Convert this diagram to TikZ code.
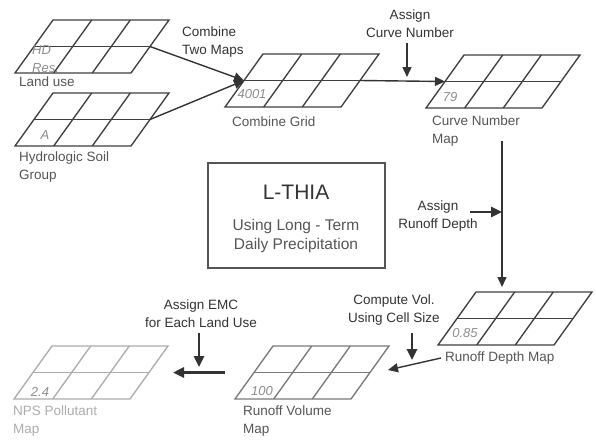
\documentclass[tikz,border=0pt]{standalone}
\usepackage{fontspec}
\setmainfont{Liberation Sans}
\usepackage{xcolor}
\usetikzlibrary{arrows.meta, positioning}

\definecolor{inkgray}{HTML}{333333}
\definecolor{labelgray}{HTML}{555555}
\definecolor{cellgray}{HTML}{8E8E8E}
\definecolor{gridline}{HTML}{404040}
\definecolor{midline}{HTML}{7A7A7A}
\definecolor{paleline}{HTML}{ADADAD}

\tikzset{
  mapgrid/.pic={
    % outline, middle row line, two column lines
    \draw (0,0) -- (116,0) -- (154,-53) -- (38,-53) -- cycle;
    \draw (19,-26.5) -- (135,-26.5);
    \draw (38.7,0) -- (76.7,-53) (77.3,0) -- (115.3,-53);
    \coordinate (-w) at (19,-26.5);
    \coordinate (-e) at (135,-26.5);
  },
  grid/.style={line width=1.35pt, gridline},
  lbl/.style={font=\fontsize{13.5}{18}\selectfont, text=labelgray, inner sep=0pt, align=left},
  note/.style={lbl, text=inkgray, align=center},
  cell/.style={font=\fontsize{13}{18}\selectfont\itshape, text=cellgray, inner sep=0pt, align=left},
  flow/.style={draw=inkgray, line width=1.4pt, -{Triangle[length=10pt,width=9pt]}},
  push/.style={draw=inkgray, line width=2.6pt, -{Triangle[length=11pt,width=10pt]}}
}

\begin{document}
\begin{tikzpicture}[x=1pt, y=-1pt]
  \fill[white] (0,0) rectangle (596,439);
  \useasboundingbox (0,0) rectangle (596,439);

  % Input maps
  \pic[grid] (lu) at (15,73) {mapgrid};
  \pic[grid] (hs) at (15,146) {mapgrid};
  \node[cell, anchor=west] (hdres) at (32,59.5) {HD\\Res.};
  \node[cell] (cellA) at (45,135) {A};
  \node[lbl, anchor=west] (lulbl) at (19,82) {Land use};
  \node[lbl, anchor=west] (hslbl) at (19,167.5) {Hydrologic Soil\\Group};

  % Combined grid
  \pic[grid] (cg) at (225,107) {mapgrid};
  \node[cell] (c4001) at (252,94) {4001};
  \node[lbl, anchor=west] (cglbl) at (232,122) {Combine Grid};
  \node[note, align=left, anchor=west] (ctm) at (182,42) {Combine\\Two Maps};
  \draw[flow] (lu-e) -- (cg-w);
  \draw[flow] (hs-e) -- (cg-w);

  % Curve number map
  \pic[grid] (cn) at (426,108) {mapgrid};
  \node[cell] (c79) at (450,97) {79};
  \node[lbl, anchor=west] (cnlbl) at (432,131) {Curve Number\\Map};
  \node[note] (acn) at (410,24) {Assign\\Curve Number};
  \draw[flow] (cg-e) -- (cn-w);
  \coordinate (acn-src) at (407,43);
  \coordinate (acn-dst) at (407,77);
  \draw[flow] (acn-src) -- (acn-dst);

  % Title box
  \node[draw=labelgray, line width=1.2pt, minimum width=177, minimum height=105] (lthia) at (296.5,215.5) {};
  \node[font=\fontsize{21}{24}\selectfont, text=inkgray, inner sep=0pt] (ttl) at (296,192) {L-THIA};
  \node[lbl, font=\fontsize{15.5}{19}\selectfont, align=center] (sub) at (296,235.5) {Using Long - Term\\Daily Precipitation};

  % Runoff depth map
  \pic[grid] (rd) at (438,345) {mapgrid};
  \node[cell] (c085) at (465,333) {0.85};
  \node[lbl, anchor=west] (rdlbl) at (445,358) {Runoff Depth Map};
  \node[note] (ard) at (438,216) {Assign\\Runoff Depth};
  \coordinate (cn-out) at (502,141);
  \coordinate (rd-in) at (502,287);
  \coordinate (ard-src) at (470,212);
  \coordinate (ard-dst) at (502,212);
  \draw[flow] (cn-out) -- (rd-in);
  \draw[push] (ard-src) -- (ard-dst);

  % Runoff volume map
  \pic[grid, midline] (rv) at (235,399) {mapgrid};
  \node[cell] (c100) at (262,391) {100};
  \node[lbl, anchor=west] (rvlbl) at (243,421.5) {Runoff Volume\\Map};
  \node[note] (acv) at (394,310) {Compute Vol.\\Using Cell Size};
  \coordinate (acv-src) at (412,333);
  \coordinate (acv-dst) at (412,360);
  \coordinate (rv-in) at (388,370);
  \draw[push] (acv-src) -- (acv-dst);
  \draw[flow] ([xshift=-4pt]rdlbl.west) -- (rv-in);

  % NPS pollutant map
  \pic[grid, paleline] (nps) at (14,399) {mapgrid};
  \node[cell] (c24) at (40,392) {2.4};
  \node[lbl, text=paleline, anchor=west] (npslbl) at (13,421.5) {NPS Pollutant\\Map};
  \node[note] (emc) at (201,314) {Assign EMC\\for Each Land Use};
  \coordinate (emc-src) at (199,333);
  \coordinate (emc-dst) at (199,367);
  \draw[push] (emc-src) -- (emc-dst);
  \draw[push, shorten <=29pt, shorten >=24pt] (rv-w) -- (nps-e);
\end{tikzpicture}
\end{document}
